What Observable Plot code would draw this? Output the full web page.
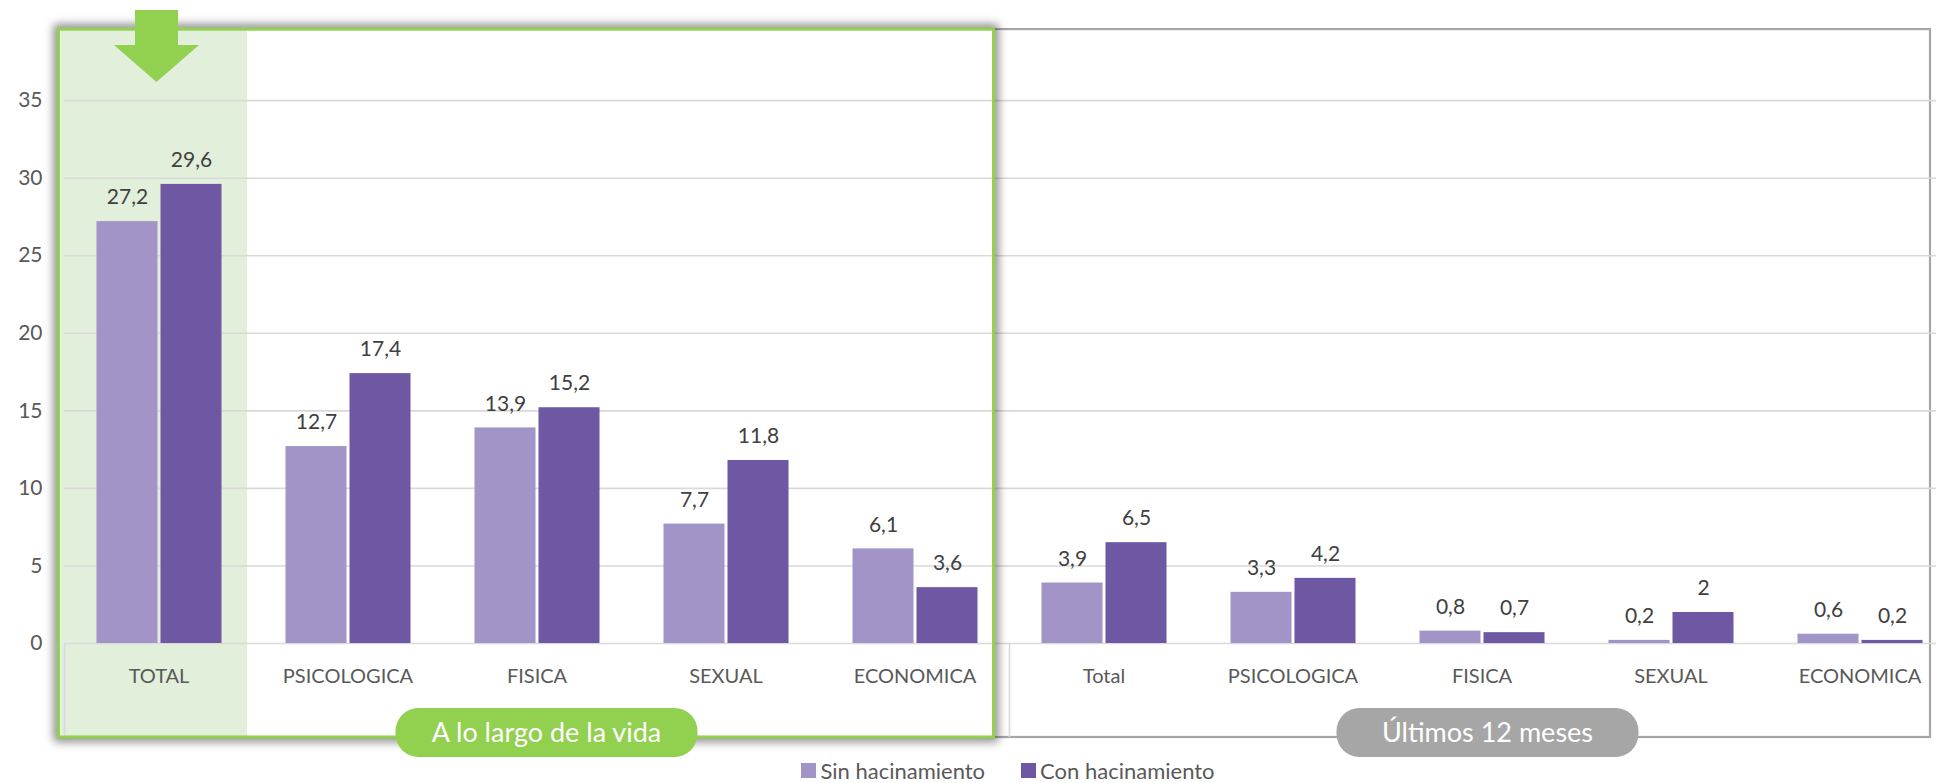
<!DOCTYPE html>
<html>
<head>
<meta charset="utf-8">
<script src="https://cdn.jsdelivr.net/npm/d3@7"></script>
<script src="https://cdn.jsdelivr.net/npm/@observablehq/plot@0.6"></script>
<style>
  html, body { margin: 0; padding: 0; background: #fff; }
  body { width: 1936px; height: 783px; overflow: hidden; font-family: Lato, "Open Sans", sans-serif; }
  #legend { height: 25px; box-sizing: border-box; padding-left: 80px; display: flex; justify-content: center; align-items: center; gap: 36px; font-size: 22px; color: #595959; }
  #legend .item { display: flex; align-items: center; gap: 4px; }
  #legend .sw { width: 15px; height: 15px; display: inline-block; }
</style>
</head>
<body>
<div id="chart"></div>
<div id="legend"></div>
<script>
// ---- data ----
const categories = ["TOTAL", "PSICOLOGICA", "FISICA", "SEXUAL", "ECONOMICA", "Total", "PSICOLOGICA", "FISICA", "SEXUAL", "ECONOMICA"];
const periods = ["A lo largo de la vida", "Últimos 12 meses"];
const series = ["Sin hacinamiento", "Con hacinamiento"];
const sinValues = [27.2, 12.7, 13.9, 7.7, 6.1, 3.9, 3.3, 0.8, 0.2, 0.6];
const conValues = [29.6, 17.4, 15.2, 11.8, 3.6, 6.5, 4.2, 0.7, 2, 0.2];
const yTicks = [0, 5, 10, 15, 20, 25, 30, 35];
const colors = ["#A294C7", "#6E57A3"];

const idx = categories.map((_, i) => i);
const rows = [];
idx.forEach(i => {
  rows.push({i, series: series[0], value: sinValues[i]});
  rows.push({i, series: series[1], value: conValues[i]});
});
const fmt = v => String(v).replace(".", ",");

const W = 1936, H = 758;
const plot = Plot.plot({
  width: W,
  height: H,
  marginTop: 22.6,
  marginBottom: 115,
  marginLeft: 63.5,
  marginRight: 0,
  style: {fontFamily: "Lato, 'Open Sans', sans-serif", fontSize: "20px", color: "#595959", background: "transparent"},
  fx: {domain: idx, range: [63.5, 1953.5], padding: 0, axis: "bottom", tickSize: 0, tickPadding: 25, tickFormat: i => categories[i], label: null},
  x: {domain: series, paddingInner: 0.05, paddingOuter: 0.485, axis: null},
  y: {domain: [0, 40], ticks: yTicks, tickSize: 0, tickPadding: 22, tickFormat: d => d, label: null},
  color: {domain: series, range: colors},
  marks: [
    Plot.ruleY(yTicks, {stroke: "#D9D9D9", strokeWidth: 1.6}),
    Plot.barY(rows, {fx: "i", x: "series", y: "value", fill: "series"}),
    Plot.text(rows, {fx: "i", x: "series", y: "value", text: d => fmt(d.value), dy: -24, fill: "#404040", fontSize: 21})
  ]
});
document.getElementById("chart").appendChild(plot);

// y tick labels a touch larger
d3.select(plot).selectAll("g[aria-label='y-axis tick label'] text").attr("font-size", 21);

// ---- decorations derived from scales ----
const fx = plot.scale("fx");
const ys = plot.scale("y");
const step = fx.step;
const bandStart = i => fx.apply(i);
const svg = d3.select(plot);

const boxTop = ys.apply(40) + 6.5;
const boxBottom = H - 21;
const baseline = ys.apply(0);

const defs = svg.insert("defs", ":first-child");
defs.append("filter").attr("id", "blur").attr("x", "-10%").attr("y", "-10%").attr("width", "120%").attr("height", "120%")
  .append("feGaussianBlur").attr("stdDeviation", 5);

const g0 = svg.insert("g", "defs + *"); // behind marks
const gx0 = bandStart(0) - 5.5;
const gx1 = bandStart(5) - 15.5;
const grayRight = bandStart(9) + step - 24;

// green shading for TOTAL
g0.append("rect").attr("x", bandStart(0) - 3.5).attr("y", boxTop).attr("width", step - 2.5)
  .attr("height", boxBottom - boxTop).attr("fill", "#E2EFDA");

// gray outer box
g0.append("rect").attr("x", gx0).attr("y", boxTop).attr("width", grayRight - gx0).attr("height", boxBottom - boxTop)
  .attr("fill", "none").attr("stroke", "#A6A6A6").attr("stroke-width", 2.2);

// category dividers under baseline
[0, 5].forEach(i => {
  g0.append("line").attr("x1", bandStart(i) + 0.5).attr("x2", bandStart(i) + 0.5).attr("y1", baseline).attr("y2", boxBottom)
    .attr("stroke", "#D9D9D9").attr("stroke-width", 1.6);
});

// top layer
const g1 = svg.append("g");
defs.append("clipPath").attr("id", "outside").append("path")
  .attr("clip-rule", "evenodd")
  .attr("d", `M0,0H${W}V${H}H0Z M${gx0},${boxTop}H${gx1}V${boxBottom}H${gx0}Z`);
g1.append("g").attr("clip-path", "url(#outside)")
  .append("rect").attr("x", gx0).attr("y", boxTop).attr("width", gx1 - gx0).attr("height", boxBottom - boxTop)
  .attr("fill", "none").attr("stroke", "#000").attr("stroke-opacity", 0.5).attr("stroke-width", 9).attr("filter", "url(#blur)");
g1.append("rect").attr("x", gx0).attr("y", boxTop).attr("width", gx1 - gx0).attr("height", boxBottom - boxTop)
  .attr("fill", "none").attr("stroke", "#92D050").attr("stroke-width", 3);

// arrow over TOTAL
const cx = bandStart(0) + step / 2 - 2;
g1.append("path").attr("fill", "#92D050")
  .attr("d", `M${cx - 21.5},10H${cx + 21.5}V45H${cx + 42.5}L${cx},82L${cx - 42.5},45H${cx - 21.5}Z`);

// period pills
const pillW = 302, pillH = 49, pillY = 708;
const pillCenters = [
  (bandStart(0) + bandStart(5)) / 2 + 10,
  (bandStart(5) + bandStart(9) + step) / 2 + 6
];
const pillColors = ["#92D050", "#A6A6A6"];
periods.forEach((p, k) => {
  const c = pillCenters[k];
  g1.append("rect").attr("x", c - pillW / 2).attr("y", pillY).attr("width", pillW).attr("height", pillH)
    .attr("rx", 23).attr("fill", pillColors[k]);
  g1.append("text").attr("x", c).attr("y", pillY + pillH / 2).attr("dy", "0.35em").attr("text-anchor", "middle")
    .attr("fill", "#fff").attr("font-size", 27).text(p);
});

// legend
const legend = d3.select("#legend");
series.forEach((s, k) => {
  const it = legend.append("div").attr("class", "item");
  it.append("span").attr("class", "sw").style("background", colors[k]);
  it.append("span").text(s);
});
</script>
</body>
</html>
